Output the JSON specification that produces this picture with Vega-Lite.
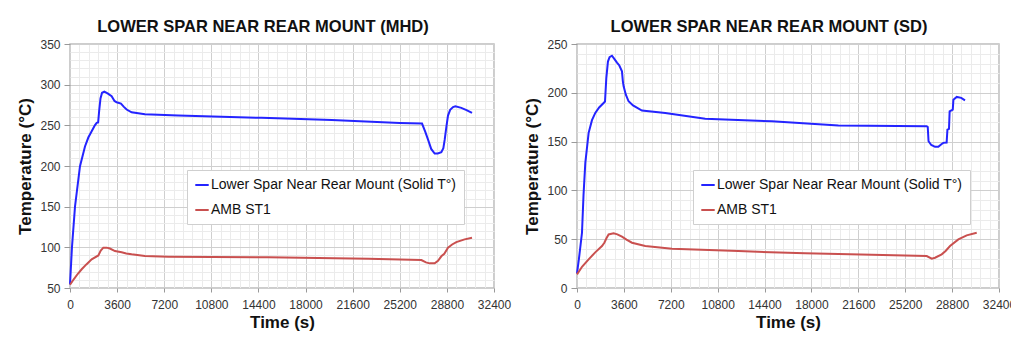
{
  "$schema": "https://vega.github.io/schema/vega-lite/v6.json",
  "padding": {"left": 16, "top": 17, "right": 0, "bottom": 0},
  "spacing": 11,
  "background": "white",
  "config": {
    "font": "Liberation Sans",
    "view": {"stroke": "#bdbdbd", "strokeWidth": 1.5},
    "title": {"fontSize": 16.5, "fontWeight": "bold", "color": "#111", "offset": 3, "anchor": "middle", "dx": -19},
    "axis": {
      "labelFontSize": 12, "labelColor": "#333", "titleFontSize": 17, "titleFontWeight": "bold", "titleColor": "#111",
      "domain": false, "tickColor": "#999", "tickSize": 6, "labelPadding": 4
    }
  },
  "datasets": {
    "mhd": [
      {"t": 0, "temp": 54.5, "series": "Lower Spar Near Rear Mount (Solid T°)"},
      {"t": 150, "temp": 100, "series": "Lower Spar Near Rear Mount (Solid T°)"},
      {"t": 382, "temp": 150, "series": "Lower Spar Near Rear Mount (Solid T°)"},
      {"t": 763, "temp": 199.8, "series": "Lower Spar Near Rear Mount (Solid T°)"},
      {"t": 1145, "temp": 224, "series": "Lower Spar Near Rear Mount (Solid T°)"},
      {"t": 1400, "temp": 235, "series": "Lower Spar Near Rear Mount (Solid T°)"},
      {"t": 1656, "temp": 242.7, "series": "Lower Spar Near Rear Mount (Solid T°)"},
      {"t": 1900, "temp": 250, "series": "Lower Spar Near Rear Mount (Solid T°)"},
      {"t": 2038, "temp": 253, "series": "Lower Spar Near Rear Mount (Solid T°)"},
      {"t": 2150, "temp": 253.5, "series": "Lower Spar Near Rear Mount (Solid T°)"},
      {"t": 2230, "temp": 268, "series": "Lower Spar Near Rear Mount (Solid T°)"},
      {"t": 2330, "temp": 283, "series": "Lower Spar Near Rear Mount (Solid T°)"},
      {"t": 2450, "temp": 290, "series": "Lower Spar Near Rear Mount (Solid T°)"},
      {"t": 2624, "temp": 291.5, "series": "Lower Spar Near Rear Mount (Solid T°)"},
      {"t": 2900, "temp": 289, "series": "Lower Spar Near Rear Mount (Solid T°)"},
      {"t": 3183, "temp": 285.7, "series": "Lower Spar Near Rear Mount (Solid T°)"},
      {"t": 3400, "temp": 280, "series": "Lower Spar Near Rear Mount (Solid T°)"},
      {"t": 3565, "temp": 278.3, "series": "Lower Spar Near Rear Mount (Solid T°)"},
      {"t": 3895, "temp": 276.7, "series": "Lower Spar Near Rear Mount (Solid T°)"},
      {"t": 4100, "temp": 273, "series": "Lower Spar Near Rear Mount (Solid T°)"},
      {"t": 4328, "temp": 269.4, "series": "Lower Spar Near Rear Mount (Solid T°)"},
      {"t": 4710, "temp": 266, "series": "Lower Spar Near Rear Mount (Solid T°)"},
      {"t": 5725, "temp": 263.6, "series": "Lower Spar Near Rear Mount (Solid T°)"},
      {"t": 8270, "temp": 262, "series": "Lower Spar Near Rear Mount (Solid T°)"},
      {"t": 14634, "temp": 259.2, "series": "Lower Spar Near Rear Mount (Solid T°)"},
      {"t": 20000, "temp": 256.5, "series": "Lower Spar Near Rear Mount (Solid T°)"},
      {"t": 25200, "temp": 253, "series": "Lower Spar Near Rear Mount (Solid T°)"},
      {"t": 26900, "temp": 252.2, "series": "Lower Spar Near Rear Mount (Solid T°)"},
      {"t": 27150, "temp": 242, "series": "Lower Spar Near Rear Mount (Solid T°)"},
      {"t": 27360, "temp": 232.5, "series": "Lower Spar Near Rear Mount (Solid T°)"},
      {"t": 27600, "temp": 221, "series": "Lower Spar Near Rear Mount (Solid T°)"},
      {"t": 27865, "temp": 215.3, "series": "Lower Spar Near Rear Mount (Solid T°)"},
      {"t": 28100, "temp": 215.5, "series": "Lower Spar Near Rear Mount (Solid T°)"},
      {"t": 28375, "temp": 217, "series": "Lower Spar Near Rear Mount (Solid T°)"},
      {"t": 28530, "temp": 222, "series": "Lower Spar Near Rear Mount (Solid T°)"},
      {"t": 28630, "temp": 232, "series": "Lower Spar Near Rear Mount (Solid T°)"},
      {"t": 28760, "temp": 248, "series": "Lower Spar Near Rear Mount (Solid T°)"},
      {"t": 28885, "temp": 262, "series": "Lower Spar Near Rear Mount (Solid T°)"},
      {"t": 29050, "temp": 269, "series": "Lower Spar Near Rear Mount (Solid T°)"},
      {"t": 29270, "temp": 272.5, "series": "Lower Spar Near Rear Mount (Solid T°)"},
      {"t": 29450, "temp": 273.4, "series": "Lower Spar Near Rear Mount (Solid T°)"},
      {"t": 29900, "temp": 271.5, "series": "Lower Spar Near Rear Mount (Solid T°)"},
      {"t": 30300, "temp": 268.8, "series": "Lower Spar Near Rear Mount (Solid T°)"},
      {"t": 30720, "temp": 265.3, "series": "Lower Spar Near Rear Mount (Solid T°)"},
      {"t": 0, "temp": 54, "series": "AMB ST1"},
      {"t": 300, "temp": 61, "series": "AMB ST1"},
      {"t": 600, "temp": 67.5, "series": "AMB ST1"},
      {"t": 893, "temp": 73, "series": "AMB ST1"},
      {"t": 1250, "temp": 79, "series": "AMB ST1"},
      {"t": 1656, "temp": 85.2, "series": "AMB ST1"},
      {"t": 2166, "temp": 90, "series": "AMB ST1"},
      {"t": 2350, "temp": 96, "series": "AMB ST1"},
      {"t": 2548, "temp": 99.6, "series": "AMB ST1"},
      {"t": 2800, "temp": 99.6, "series": "AMB ST1"},
      {"t": 3050, "temp": 98.5, "series": "AMB ST1"},
      {"t": 3437, "temp": 95.4, "series": "AMB ST1"},
      {"t": 3946, "temp": 94, "series": "AMB ST1"},
      {"t": 4300, "temp": 92.5, "series": "AMB ST1"},
      {"t": 4710, "temp": 91.4, "series": "AMB ST1"},
      {"t": 5725, "temp": 89.3, "series": "AMB ST1"},
      {"t": 7510, "temp": 88.5, "series": "AMB ST1"},
      {"t": 15145, "temp": 87.7, "series": "AMB ST1"},
      {"t": 22780, "temp": 86, "series": "AMB ST1"},
      {"t": 26850, "temp": 84.4, "series": "AMB ST1"},
      {"t": 27200, "temp": 81.5, "series": "AMB ST1"},
      {"t": 27480, "temp": 80.3, "series": "AMB ST1"},
      {"t": 27865, "temp": 80.3, "series": "AMB ST1"},
      {"t": 28120, "temp": 83.5, "series": "AMB ST1"},
      {"t": 28375, "temp": 89, "series": "AMB ST1"},
      {"t": 28600, "temp": 92, "series": "AMB ST1"},
      {"t": 28885, "temp": 99.6, "series": "AMB ST1"},
      {"t": 29200, "temp": 103.5, "series": "AMB ST1"},
      {"t": 29520, "temp": 106.5, "series": "AMB ST1"},
      {"t": 30155, "temp": 109.8, "series": "AMB ST1"},
      {"t": 30720, "temp": 111.9, "series": "AMB ST1"}
    ],
    "sd": [
      {"t": 0, "temp": 15, "series": "Lower Spar Near Rear Mount (Solid T°)"},
      {"t": 150, "temp": 30, "series": "Lower Spar Near Rear Mount (Solid T°)"},
      {"t": 383, "temp": 56.6, "series": "Lower Spar Near Rear Mount (Solid T°)"},
      {"t": 500, "temp": 95, "series": "Lower Spar Near Rear Mount (Solid T°)"},
      {"t": 637, "temp": 128, "series": "Lower Spar Near Rear Mount (Solid T°)"},
      {"t": 893, "temp": 159, "series": "Lower Spar Near Rear Mount (Solid T°)"},
      {"t": 1150, "temp": 172, "series": "Lower Spar Near Rear Mount (Solid T°)"},
      {"t": 1404, "temp": 179.4, "series": "Lower Spar Near Rear Mount (Solid T°)"},
      {"t": 1700, "temp": 185, "series": "Lower Spar Near Rear Mount (Solid T°)"},
      {"t": 2043, "temp": 189.6, "series": "Lower Spar Near Rear Mount (Solid T°)"},
      {"t": 2150, "temp": 191, "series": "Lower Spar Near Rear Mount (Solid T°)"},
      {"t": 2250, "temp": 215, "series": "Lower Spar Near Rear Mount (Solid T°)"},
      {"t": 2375, "temp": 232, "series": "Lower Spar Near Rear Mount (Solid T°)"},
      {"t": 2500, "temp": 236.5, "series": "Lower Spar Near Rear Mount (Solid T°)"},
      {"t": 2685, "temp": 238, "series": "Lower Spar Near Rear Mount (Solid T°)"},
      {"t": 2850, "temp": 235, "series": "Lower Spar Near Rear Mount (Solid T°)"},
      {"t": 3070, "temp": 231, "series": "Lower Spar Near Rear Mount (Solid T°)"},
      {"t": 3250, "temp": 228, "series": "Lower Spar Near Rear Mount (Solid T°)"},
      {"t": 3452, "temp": 222, "series": "Lower Spar Near Rear Mount (Solid T°)"},
      {"t": 3520, "temp": 212, "series": "Lower Spar Near Rear Mount (Solid T°)"},
      {"t": 3580, "temp": 206.6, "series": "Lower Spar Near Rear Mount (Solid T°)"},
      {"t": 3750, "temp": 198, "series": "Lower Spar Near Rear Mount (Solid T°)"},
      {"t": 3960, "temp": 191.3, "series": "Lower Spar Near Rear Mount (Solid T°)"},
      {"t": 4300, "temp": 187, "series": "Lower Spar Near Rear Mount (Solid T°)"},
      {"t": 4985, "temp": 181.8, "series": "Lower Spar Near Rear Mount (Solid T°)"},
      {"t": 6775, "temp": 179.4, "series": "Lower Spar Near Rear Mount (Solid T°)"},
      {"t": 9843, "temp": 173.3, "series": "Lower Spar Near Rear Mount (Solid T°)"},
      {"t": 14960, "temp": 170.8, "series": "Lower Spar Near Rear Mount (Solid T°)"},
      {"t": 20070, "temp": 166.4, "series": "Lower Spar Near Rear Mount (Solid T°)"},
      {"t": 26850, "temp": 165.7, "series": "Lower Spar Near Rear Mount (Solid T°)"},
      {"t": 26930, "temp": 165, "series": "Lower Spar Near Rear Mount (Solid T°)"},
      {"t": 26990, "temp": 150.4, "series": "Lower Spar Near Rear Mount (Solid T°)"},
      {"t": 27200, "temp": 146.5, "series": "Lower Spar Near Rear Mount (Solid T°)"},
      {"t": 27490, "temp": 144.6, "series": "Lower Spar Near Rear Mount (Solid T°)"},
      {"t": 27740, "temp": 144.6, "series": "Lower Spar Near Rear Mount (Solid T°)"},
      {"t": 28000, "temp": 147.5, "series": "Lower Spar Near Rear Mount (Solid T°)"},
      {"t": 28125, "temp": 148.7, "series": "Lower Spar Near Rear Mount (Solid T°)"},
      {"t": 28380, "temp": 149, "series": "Lower Spar Near Rear Mount (Solid T°)"},
      {"t": 28440, "temp": 162.3, "series": "Lower Spar Near Rear Mount (Solid T°)"},
      {"t": 28560, "temp": 163, "series": "Lower Spar Near Rear Mount (Solid T°)"},
      {"t": 28610, "temp": 181, "series": "Lower Spar Near Rear Mount (Solid T°)"},
      {"t": 28850, "temp": 182.8, "series": "Lower Spar Near Rear Mount (Solid T°)"},
      {"t": 28900, "temp": 193, "series": "Lower Spar Near Rear Mount (Solid T°)"},
      {"t": 29155, "temp": 195.8, "series": "Lower Spar Near Rear Mount (Solid T°)"},
      {"t": 29500, "temp": 194.8, "series": "Lower Spar Near Rear Mount (Solid T°)"},
      {"t": 29790, "temp": 192.3, "series": "Lower Spar Near Rear Mount (Solid T°)"},
      {"t": 0, "temp": 14, "series": "AMB ST1"},
      {"t": 400, "temp": 22, "series": "AMB ST1"},
      {"t": 893, "temp": 29.4, "series": "AMB ST1"},
      {"t": 1400, "temp": 36.5, "series": "AMB ST1"},
      {"t": 1918, "temp": 43, "series": "AMB ST1"},
      {"t": 2100, "temp": 46.4, "series": "AMB ST1"},
      {"t": 2260, "temp": 51, "series": "AMB ST1"},
      {"t": 2426, "temp": 54.9, "series": "AMB ST1"},
      {"t": 2810, "temp": 56, "series": "AMB ST1"},
      {"t": 3100, "temp": 55, "series": "AMB ST1"},
      {"t": 3452, "temp": 52.6, "series": "AMB ST1"},
      {"t": 3800, "temp": 49.5, "series": "AMB ST1"},
      {"t": 4220, "temp": 46.4, "series": "AMB ST1"},
      {"t": 5240, "temp": 43, "series": "AMB ST1"},
      {"t": 7290, "temp": 40.3, "series": "AMB ST1"},
      {"t": 12400, "temp": 37.8, "series": "AMB ST1"},
      {"t": 17515, "temp": 35.5, "series": "AMB ST1"},
      {"t": 22630, "temp": 34.1, "series": "AMB ST1"},
      {"t": 26850, "temp": 32.7, "series": "AMB ST1"},
      {"t": 27235, "temp": 30, "series": "AMB ST1"},
      {"t": 27490, "temp": 31, "series": "AMB ST1"},
      {"t": 28000, "temp": 34.5, "series": "AMB ST1"},
      {"t": 28300, "temp": 38, "series": "AMB ST1"},
      {"t": 28640, "temp": 43, "series": "AMB ST1"},
      {"t": 29280, "temp": 49.8, "series": "AMB ST1"},
      {"t": 29920, "temp": 53.9, "series": "AMB ST1"},
      {"t": 30690, "temp": 56.7, "series": "AMB ST1"}
    ]
  },
  "hconcat": [
    {
      "title": "LOWER SPAR NEAR REAR MOUNT (MHD)",
      "width": 424, "height": 244,
      "data": {"name": "mhd"},
      "mark": {"type": "line", "strokeWidth": 2},
      "encoding": {
        "x": {"field": "t", "type": "quantitative", "title": "Time (s)",
          "scale": {"domain": [0, 32400], "nice": false},
          "axis": {"values": [0,720,1440,2160,2880,3600,4320,5040,5760,6480,7200,7920,8640,9360,10080,10800,11520,12240,12960,13680,14400,15120,15840,16560,17280,18000,18720,19440,20160,20880,21600,22320,23040,23760,24480,25200,25920,26640,27360,28080,28800,29520,30240,30960,31680,32400],
            "labelExpr": "datum.value % 3600 === 0 ? datum.label : ''", "format": "d", "labelFlush": false,
            "gridColor": {"condition": {"test": "datum.value % 3600 === 0", "value": "#cfcfcf"}, "value": "#ebebeb"},
            "tickOpacity": {"condition": {"test": "datum.value % 3600 === 0", "value": 1}, "value": 0},
            "tickSize": 4, "labelPadding": 7, "titlePadding": 4}},
        "y": {"field": "temp", "type": "quantitative", "title": "Temperature (°C)",
          "scale": {"domain": [50, 350], "nice": false, "zero": false},
          "axis": {"values": [50,60,70,80,90,100,110,120,130,140,150,160,170,180,190,200,210,220,230,240,250,260,270,280,290,300,310,320,330,340,350],
            "labelExpr": "datum.value % 50 === 0 ? datum.label : ''",
            "gridColor": {"condition": {"test": "datum.value % 50 === 0", "value": "#cfcfcf"}, "value": "#ebebeb"},
            "tickOpacity": {"condition": {"test": "datum.value % 50 === 0", "value": 1}, "value": 0},
            "titlePadding": 5}},
        "color": {"field": "series", "type": "nominal", "sort": ["Lower Spar Near Rear Mount (Solid T°)", "AMB ST1"],
          "scale": {"domain": ["Lower Spar Near Rear Mount (Solid T°)", "AMB ST1"], "range": ["#2424ff", "#c9504f"]},
          "legend": {"orient": "none", "legendX": 117, "legendY": 126, "title": null, "direction": "vertical",
            "fillColor": "white", "strokeColor": "#cfcfcf", "padding": 7,
            "symbolType": "stroke", "symbolSize": 180, "symbolStrokeWidth": 2,
            "labelFontSize": 14, "labelColor": "#111", "rowPadding": 10, "labelOffset": 1, "labelLimit": 400}}
      }
    },
    {
      "title": "LOWER SPAR NEAR REAR MOUNT (SD)",
      "width": 422, "height": 244,
      "data": {"name": "sd"},
      "mark": {"type": "line", "strokeWidth": 2},
      "encoding": {
        "x": {"field": "t", "type": "quantitative", "title": "Time (s)",
          "scale": {"domain": [0, 32400], "nice": false},
          "axis": {"values": [0,720,1440,2160,2880,3600,4320,5040,5760,6480,7200,7920,8640,9360,10080,10800,11520,12240,12960,13680,14400,15120,15840,16560,17280,18000,18720,19440,20160,20880,21600,22320,23040,23760,24480,25200,25920,26640,27360,28080,28800,29520,30240,30960,31680,32400],
            "labelExpr": "datum.value % 3600 === 0 ? datum.label : ''", "format": "d", "labelFlush": false,
            "gridColor": {"condition": {"test": "datum.value % 3600 === 0", "value": "#cfcfcf"}, "value": "#ebebeb"},
            "tickOpacity": {"condition": {"test": "datum.value % 3600 === 0", "value": 1}, "value": 0},
            "tickSize": 4, "labelPadding": 7, "titlePadding": 4}},
        "y": {"field": "temp", "type": "quantitative", "title": "Temperature (°C)",
          "scale": {"domain": [0, 250], "nice": false},
          "axis": {"values": [0,10,20,30,40,50,60,70,80,90,100,110,120,130,140,150,160,170,180,190,200,210,220,230,240,250],
            "labelExpr": "datum.value % 50 === 0 ? datum.label : ''",
            "gridColor": {"condition": {"test": "datum.value % 50 === 0", "value": "#cfcfcf"}, "value": "#ebebeb"},
            "tickOpacity": {"condition": {"test": "datum.value % 50 === 0", "value": 1}, "value": 0},
            "titlePadding": 5}},
        "color": {"field": "series", "type": "nominal", "sort": ["Lower Spar Near Rear Mount (Solid T°)", "AMB ST1"],
          "scale": {"domain": ["Lower Spar Near Rear Mount (Solid T°)", "AMB ST1"], "range": ["#2424ff", "#c9504f"]},
          "legend": {"orient": "none", "legendX": 116, "legendY": 126, "title": null, "direction": "vertical",
            "fillColor": "white", "strokeColor": "#cfcfcf", "padding": 7,
            "symbolType": "stroke", "symbolSize": 180, "symbolStrokeWidth": 2,
            "labelFontSize": 14, "labelColor": "#111", "rowPadding": 10, "labelOffset": 1, "labelLimit": 400}}
      }
    }
  ],
  "resolve": {"scale": {"color": "independent"}, "legend": {"color": "independent"}}
}
